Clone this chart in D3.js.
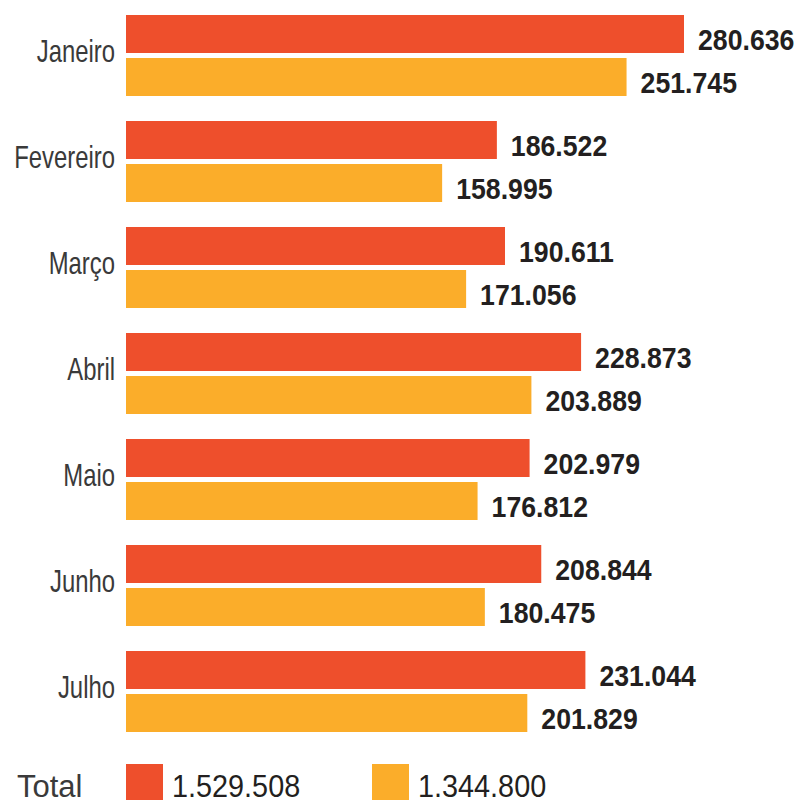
<!DOCTYPE html>
<html lang="pt">
  <head>
    <meta charset="utf-8">
    <title>Meses</title>
    <script src="https://d3js.org/d3.v7.min.js"></script>
    <style>
      body { margin: 0; background: #fff; }
      .mes { font-family: "Liberation Sans", Arial, sans-serif; fill: #3a3a3a; }
      .valor { font-family: "Liberation Sans", Arial, sans-serif; font-weight: bold; fill: #231f20; }
    </style>
  </head>

  <body>

  <script>

  // data
  var months = ["Janeiro", "Fevereiro", "Março", "Abril", "Maio", "Junho", "Julho"];
  var serie1 = [280636, 186522, 190611, 228873, 202979, 208844, 231044];
  var serie2 = [251745, 158995, 171056, 203889, 176812, 180475, 201829];
  var totals = ["1.529.508", "1.344.800"];
  var colors = ["#ee4f2c", "#fbad2a"];

  var w = 802;
  var h = 803;
  var narrow = 0.77;   // fake condensed font
  var valNarrow = 0.92;
  var legNarrow = 0.93;

  var svg = d3.select("body")
    .append("svg")
      .attr("width", w)
      .attr("height", h);

  var fmt = d3.formatLocale({decimal: ",", thousands: ".", grouping: [3], currency: ["", ""]}).format(",d");

  var xScale = d3.scaleLinear()
      .domain([0, 280636])
      .range([126, 684]);

  var yScale = d3.scaleBand()
      .domain(months)
      .range([15, 732])
      .paddingInner(25 / 106)
      .paddingOuter(0);

  var inner = d3.scaleBand()
      .domain([0, 1])
      .range([0, yScale.bandwidth()])
      .paddingInner(5 / 43);

  var rows = months.map((m, i) => ({month: m, vals: [serie1[i], serie2[i]]}));

  var g = svg.selectAll("g.row")
      .data(rows)
    .enter().append("g")
      .attr("class", "row")
      .attr("transform", d => `translate(0, ${yScale(d.month)})`);

  g.append("text")
      .attr("class", "mes")
      .attr("transform", `scale(${narrow}, 1)`)
      .attr("x", 115 / narrow)
      .attr("y", yScale.bandwidth() / 2 + 7)
      .attr("text-anchor", "end")
      .attr("font-size", 31)
      .text(d => d.month);

  var bars = g.selectAll("g.bar")
      .data(d => d.vals)
    .enter().append("g")
      .attr("class", "bar");

  bars.append("rect")
      .attr("x", xScale(0))
      .attr("y", (d, i) => inner(i))
      .attr("width", d => xScale(d) - xScale(0))
      .attr("height", inner.bandwidth())
      .attr("fill", (d, i) => colors[i]);

  bars.append("text")
      .attr("class", "valor")
      .attr("transform", `scale(${valNarrow}, 1)`)
      .attr("x", d => (xScale(d) + 14) / valNarrow)
      .attr("y", (d, i) => inner(i) + inner.bandwidth() / 2 + 16)
      .attr("font-size", 29)
      .text(d => fmt(d));

  // legend
  var leg = svg.append("g")
      .attr("transform", "translate(0, 764)");

  leg.append("text")
      .attr("class", "mes")
      .attr("x", 17)
      .attr("y", 33)
      .attr("font-size", 31)
      .text("Total");

  var items = leg.selectAll("g.item")
      .data(totals)
    .enter().append("g")
      .attr("class", "item")
      .attr("transform", (d, i) => `translate(${126 + i * 246}, 0)`);

  items.append("rect")
      .attr("width", 37)
      .attr("height", 36)
      .attr("fill", (d, i) => colors[i]);

  items.append("text")
      .attr("class", "mes")
      .attr("transform", `scale(${legNarrow}, 1)`)
      .attr("x", 46 / legNarrow)
      .attr("y", 33)
      .attr("font-size", 31)
      .style("fill", "#231f20")
      .text(d => d);

  </script>

  </body>

</html>
